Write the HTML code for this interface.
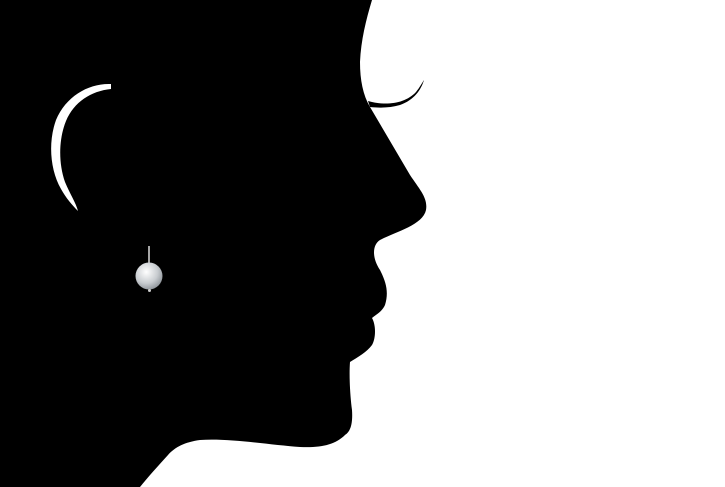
<!DOCTYPE html>
<html><head><style>html,body{margin:0;padding:0;background:#fff;width:725px;height:487px;overflow:hidden}</style></head>
<body>
<svg width="725" height="487" viewBox="0 0 725 487" xmlns="http://www.w3.org/2000/svg">
<path fill="#000" d="M0,0 L372,0 C366,20 361,40 360,62 C360,80 363,95 370,107 L410,175 C420,190 428,198 426,210 C423,225 395,232 380,240 C372,245 372,258 380,270 C386,282 389,292 385,305 C382,312 375,315 372,318 C376,325 376,338 372,345 C367,352 358,357 350,362 C349,375 350,395 352,410 C353,425 350,432 345,435 C335,445 320,448 300,447 C270,445 230,438 200,440 C185,442 175,447 168,455 C158,466 148,477 140,487 L0,487 Z"/>
<path fill="#000" d="M368,101 C385,106 405,104 416,92 C420,87 422,83 424,80 C421,90 414,100 400,105 C390,108 378,108 370,107 Z"/>
<path fill="#fff" d="M111,84 C89,83 66,96 56,120 C48,142 50,170 61,189 C66,198 72,205 78,211 C76,203 70,194 65,182 C58,162 59,138 66,121 C74,102 91,91 111,89 Z"/>
<line x1="149" y1="246" x2="149" y2="264" stroke="#ddd" stroke-width="1.5"/>
<defs><radialGradient id="g" cx="0.4" cy="0.35" r="0.7"><stop offset="0" stop-color="#fff"/><stop offset="0.6" stop-color="#c8ccd0"/><stop offset="1" stop-color="#8a9096"/></radialGradient></defs>
<circle cx="149" cy="276" r="13.5" fill="url(#g)"/>
<circle cx="149.5" cy="290.5" r="1.5" fill="#ccc"/>
</svg>
</body></html>
